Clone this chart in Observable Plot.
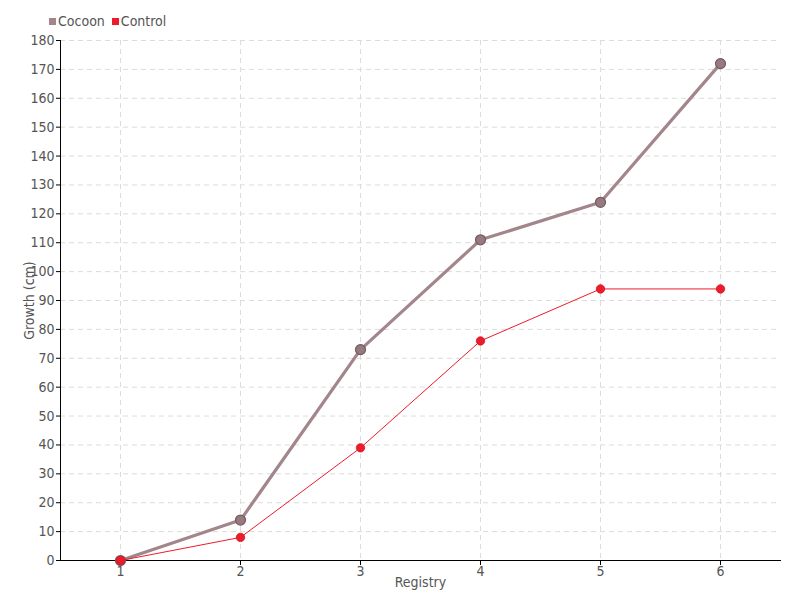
<!DOCTYPE html>
<html>
<head>
<meta charset="utf-8">
<script src="https://cdn.jsdelivr.net/npm/d3@7"></script>
<script src="https://cdn.jsdelivr.net/npm/@observablehq/plot@0.6"></script>
<style>
  html, body { margin: 0; padding: 0; background: #fff; }
  #wrap { position: relative; width: 800px; height: 600px; font-family: "Liberation Sans Narrow", "DejaVu Sans Condensed", "Roboto", sans-serif; }
  #legend { position: absolute; left: 49px; top: 13px; font-size: 14px; color: #555; display: flex; gap: 7px; align-items: center; }
  #legend span.item { display: inline-flex; align-items: center; gap: 2px; }
  #legend span.sw { display: inline-block; width: 7px; height: 7px; }
</style>
</head>
<body>
<div id="wrap">
  <div id="legend"></div>
  <div id="chart"></div>
</div>
<script>
const registry = [1, 2, 3, 4, 5, 6];
const cocoon = [0, 14, 73, 111, 124, 172];
const control = [0, 8, 39, 76, 94, 94];
const yTicks = [0, 10, 20, 30, 40, 50, 60, 70, 80, 90, 100, 110, 120, 130, 140, 150, 160, 170, 180];
const seriesNames = ["Cocoon", "Control"];
const seriesColors = ["#a3868b", "#ed1c2a"];

const cocoonData = registry.map((r, i) => ({registry: r, value: cocoon[i]}));
const controlData = registry.map((r, i) => ({registry: r, value: control[i]}));

const legend = document.getElementById("legend");
seriesNames.forEach((n, i) => {
  const it = document.createElement("span");
  it.className = "item";
  it.innerHTML = `<span class="sw" style="background:${seriesColors[i]}"></span><span>${n}</span>`;
  legend.appendChild(it);
});

const font = '"Liberation Sans Narrow", "DejaVu Sans Condensed", "Roboto", sans-serif';

const chart = Plot.plot({
  width: 800,
  height: 600,
  marginLeft: 60,
  marginRight: 20,
  marginTop: 40,
  marginBottom: 40,
  style: {fontFamily: font, fontSize: "14px", color: "#555", background: "#fff"},
  x: {type: "point", domain: registry, padding: 0.5},
  y: {domain: [0, 180]},
  marks: [
    Plot.gridY(yTicks, {stroke: "#dcdcdc", strokeOpacity: 1, strokeDasharray: "5,4"}),
    Plot.gridX(registry, {stroke: "#dcdcdc", strokeOpacity: 1, strokeDasharray: "5,4"}),
    Plot.frame({anchor: "left", stroke: "#000", strokeOpacity: 1}),
    Plot.frame({anchor: "bottom", stroke: "#000", strokeOpacity: 1}),
    Plot.axisY({ticks: yTicks, tickSize: 4, tickPadding: 2, stroke: "#000", fill: "#555", fontSize: 14,
      label: "Growth (cm)", labelAnchor: "center", labelArrow: "none", labelOffset: 36}),
    Plot.axisX({ticks: registry, tickSize: 5, tickPadding: 1, stroke: "#000", fill: "#555", fontSize: 14,
      label: "Registry", labelAnchor: "center", labelArrow: "none", labelOffset: 26}),
    Plot.line(cocoonData, {x: "registry", y: "value", stroke: seriesColors[0], strokeWidth: 3.2}),
    Plot.dot(cocoonData, {x: "registry", y: "value", r: 5, fill: "#957a7f", stroke: "#735a5f", strokeWidth: 1.2}),
    Plot.line(controlData, {x: "registry", y: "value", stroke: seriesColors[1], strokeWidth: 1}),
    Plot.dot(controlData, {x: "registry", y: "value", r: 4.2, fill: seriesColors[1], stroke: "#d8101e", strokeWidth: 0.8})
  ]
});
document.getElementById("chart").appendChild(chart);
</script>
</body>
</html>
